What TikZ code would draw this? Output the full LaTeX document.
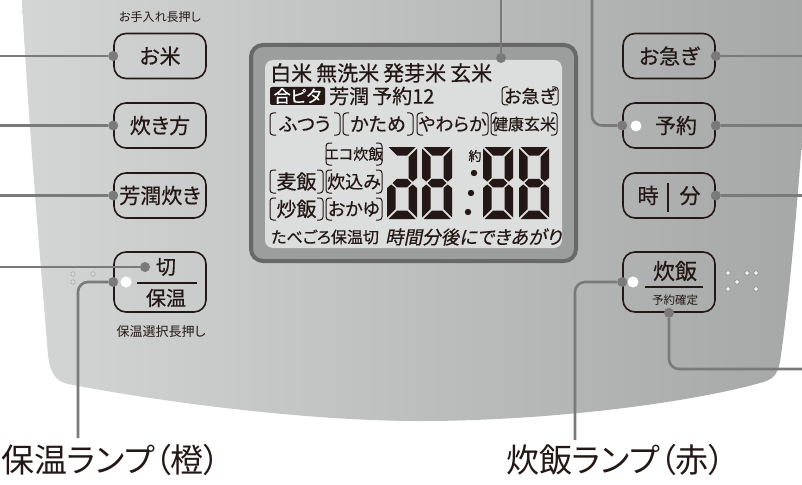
\documentclass[tikz,border=0pt]{standalone}
\usepackage{fontspec}
\newfontfamily\jp[RawFeature=+palt]{Noto Sans CJK JP}
\newfontfamily\jpb[RawFeature=+palt,FakeBold=0.5]{Noto Sans CJK JP}
\newfontfamily\jpit[RawFeature=+palt,FakeSlant=0.2,FakeBold=0.5]{Noto Sans CJK JP}
\usepackage{tikz}
\newcommand\jpsize[1]{\fontsize{#1}{#1}\selectfont}

\definecolor{ink}{HTML}{231815}
\definecolor{leadgray}{HTML}{7A7A7A}
\definecolor{panelL}{HTML}{D4D5D5}
\definecolor{panelR}{HTML}{A6A7A7}
\definecolor{bezel}{HTML}{9C9D9D}
\definecolor{bezelline}{HTML}{686868}
\definecolor{lcd}{HTML}{DCDDDD}

\tikzset{
  btn/.style={draw=ink, line width=1.6pt, rounded corners=12pt, minimum width=92pt,
    minimum height=45pt, inner sep=0pt, text=ink, font=\jpb\jpsize{21}},
  lead/.style={leadgray, line width=2.6pt, rounded corners=10pt},
  pin/.style={circle, fill=leadgray, inner sep=0pt, minimum size=10pt},
  lamp/.style={circle, fill=white, inner sep=0pt, minimum size=11pt},
  lcdtxt/.style={text=ink, inner sep=0pt},
  tagline/.style={draw=ink, line width=1pt, rounded corners=3pt},
  pore/.style={circle, draw=gray!90, fill=white!92!gray, line width=0.6pt, inner sep=0pt, minimum size=4.5pt},
  sega/.pic={\fill[ink] (1.5,-72) -- (28.5,-72) -- (20,-63.5) -- (10,-63.5) -- cycle;},
  segb/.pic={\fill[ink] (30,-70.5) -- (21.5,-62) -- (21.5,-41) -- (25.75,-37.5) -- (30,-41) -- cycle;},
  segc/.pic={\fill[ink] (30,-1.5) -- (21.5,-10) -- (21.5,-31) -- (25.75,-34.5) -- (30,-31) -- cycle;},
  segd/.pic={\fill[ink] (1.5,0) -- (28.5,0) -- (20,-8.5) -- (10,-8.5) -- cycle;},
  sege/.pic={\fill[ink] (0,-1.5) -- (8.5,-10) -- (8.5,-31) -- (4.25,-34.5) -- (0,-31) -- cycle;},
  segf/.pic={\fill[ink] (0,-70.5) -- (8.5,-62) -- (8.5,-41) -- (4.25,-37.5) -- (0,-41) -- cycle;},
  segg/.pic={\fill[ink] (5.5,-36) -- (10,-40.25) -- (20,-40.25) -- (24.5,-36) -- (20,-31.75) -- (10,-31.75) -- cycle;},
}

% bracketed LCD tag: name, x1, y1, x2, y2, size, text
\newcommand\lcdtag[7]{%
  \node[lcdtxt, font=\jpb\jpsize{#6}] (#1) at ({(#2+#4)/2},{(#3+#5)/2}) {#7};
  \draw[tagline] ({#2+6},#3) -- (#2,#3) -- (#2,#5) -- ({#2+6},#5);
  \draw[tagline] ({#4-6},#3) -- (#4,#3) -- (#4,#5) -- ({#4-6},#5);
}
% seven segment digit: left x, segments
\newcommand\lcddigit[2]{%
  \begin{scope}[shift={(#1,219)}, xslant=0.18]
    \foreach \s in {#2} {\pic {seg\s};}
  \end{scope}
}

\begin{document}
\begin{tikzpicture}[x=1pt, y=-1pt]
\useasboundingbox (0,0) rectangle (802,484);

% panel
\shade[left color=panelL, right color=panelR] (22,0) -- (802,0) -- (802,140)
  .. controls (793,260) and (786,320) .. (780,362) .. controls (777,376) and (772,380) .. (760,383)
  .. controls (680,405) and (540,421) .. (420,421) .. controls (300,421) and (150,400) .. (68,384)
  .. controls (55,381) and (50,372) .. (48,355) .. controls (42,280) and (28,120) .. (22,0) -- cycle;

% display
\draw[fill=bezel, draw=bezelline, line width=4pt, rounded corners=12pt] (251,45) rectangle (576,261);
\fill[lcd, rounded corners=8pt] (265,60) rectangle (562,248);

\node[lcdtxt, anchor=west, font=\jpb\jpsize{21}] (rice) at (270,73) {白米\hspace{4pt}無洗米\hspace{4pt}発芽米\hspace{4pt}玄米};
\node[fill=ink, rounded corners=2pt, minimum width=55pt, minimum height=18pt, inner sep=0pt,
  text=white, font=\jpb\jpsize{17}] (gopita) at (297.5,96) {合ピタ};
\node[lcdtxt, anchor=west, font=\jpb\jpsize{20}] (houjunlcd) at (329,96) {芳潤\hspace{3pt}予約12};
\lcdtag{isogilcd}{502}{87}{558}{105}{18}{お急ぎ}
\lcdtag{futsu}{270}{113}{340}{135}{19}{ふつう}
\lcdtag{katame}{343}{113}{413}{135}{19}{かため}
\lcdtag{yawaraka}{417}{113}{488}{135}{18}{やわらか}
\lcdtag{genmai}{491}{113}{557}{135}{16}{健康玄米}
\lcdtag{eco}{326}{143}{382}{165}{15}{エコ炊飯}
\lcdtag{mugi}{270}{170}{323}{193}{20}{麦飯}
\lcdtag{takikomi}{326}{170}{382}{193}{18}{炊込み}
\lcdtag{chahan}{270}{198}{323}{220}{20}{炒飯}
\lcdtag{okayu}{326}{198}{382}{220}{18}{おかゆ}
\node[lcdtxt, anchor=west, font=\jpb\jpsize{16}] (tabegoro) at (271,237) {たべごろ保温切};
\node[lcdtxt, anchor=west, font=\jpit\jpsize{18.5}] (dekiagari) at (385,237) {時間分後にできあがり};
\node[lcdtxt, font=\jpb\jpsize{13}] (yaku) at (475,156) {約};

\lcddigit{387}{a,b,g,e,c,d}
\lcddigit{422}{a,b,c,d,e,f,g}
\lcddigit{483}{a,b,c,d,e,f,g}
\lcddigit{519}{a,b,c,d,e,f,g}
\fill[ink] (474,173) circle (3.2pt) (471,193) circle (3.2pt) (468,212) circle (3.2pt);

% left buttons
\node[text=ink, font=\jp\jpsize{12}] (teire) at (160,17) {お手入れ長押し};
\node[btn] (kome) at (160,56) {お米};
\node[btn] (kikata) at (160,125.5) {炊き方};
\node[btn] (houjun) at (160,195.5) {芳潤炊き};
\node[btn, minimum height=60pt] (hoon) at (160,282) {};
\node[text=ink, font=\jpb\jpsize{20}] (kiri) at (166,267) {切};
\node[text=ink, font=\jpb\jpsize{20}] (hoontxt) at (166,298) {保温};
\draw[ink, line width=1.3pt] (137,283) -- (197,283);
\node[text=ink, font=\jp\jpsize{13}] (hoonsel) at (161,332) {保温選択長押し};
\node[pore, draw=gray!70, fill=gray!30] (pl1) at (73,274) {};
\node[pore, draw=gray!70, fill=gray!30] (pl2) at (93,274) {};
\node[pore, draw=gray!70, fill=gray!30] (pl3) at (73,282) {};

% right buttons
\node[btn] (isogi) at (669,56) {お急ぎ};
\node[btn] (yoyaku) at (669,125.5) {\hspace{14pt}予約};
\node[btn] (jifun) at (669,195.5) {時\hspace{21pt}分};
\draw[ink, line width=2.2pt] (668,183) -- (668,212);
\node[btn, minimum height=60pt] (suihan) at (669,282) {};
\node[text=ink, font=\jpb\jpsize{22}] (suihantxt) at (675,271) {炊飯};
\draw[ink, line width=1.3pt] (645,287) -- (703,287);
\node[text=ink, font=\jp\jpsize{11.5}] (kakutei) at (675,300) {予約確定};
\foreach \px/\py [count=\i] in {728/273, 747/273, 756/273, 737/282, 728/289, 756/289}
  \node[pore] (pr\i) at (\px,\py) {};

% lamps and pins
\node[lamp] (hoonlamp) at (126,282) {};
\node[lamp] (yoyakulamp) at (636,126) {};
\node[lamp] (suihanlamp) at (633,282) {};
\node[pin] (komepin) at (kome.west) {};
\node[pin] (kikatapin) at (kikata.west) {};
\node[pin] (houjunpin) at (houjun.west) {};
\node[pin] (kiripin) at (145,267) {};
\node[pin] (hoonpin) at (hoon.west) {};
\node[pin] (isogipin) at (isogi.east) {};
\node[pin] (yoyakupin) at (yoyaku.east) {};
\node[pin] (yoyakulpin) at (yoyaku.west) {};
\node[pin] (jifunpin) at (jifun.east) {};
\node[pin] (suihanpin) at (suihan.west) {};
\node[pin] (kakuteipin) at (suihan.south) {};
\node[pin] (lcdpin) at (501,58) {};

% labels
\node[text=ink, font=\jp\jpsize{33}, inner sep=0pt, anchor=west] (hoonlabel) at (1,460) {保温ランプ（橙）};
\node[text=ink, font=\jp\jpsize{33}, inner sep=0pt, anchor=west] (suihanlabel) at (506,460) {炊飯ランプ（赤）};

% free ends
\coordinate (komeend) at (0,56);
\coordinate (kikataend) at (0,125.5);
\coordinate (houjunend) at (0,195.5);
\coordinate (kiriend) at (0,267);
\coordinate (hoonend) at (78,438);
\coordinate (isogiend) at (802,56);
\coordinate (yoyakuend) at (802,125.5);
\coordinate (yoyakutop) at (592,0);
\coordinate (jifunend) at (802,195.5);
\coordinate (suihanend) at (575,440);
\coordinate (kakuteiend) at (802,369);
\coordinate (lcdtop) at (501,0);

% leads
\draw[lead] (komeend) -- (komepin);
\draw[lead] (kikataend) -- (kikatapin);
\draw[lead] (houjunend) -- (houjunpin);
\draw[lead] (kiriend) -- (kiripin);
\draw[lead] (hoonpin) -| (hoonend);
\draw[lead] (isogipin) -- (isogiend);
\draw[lead] (yoyakupin) -- (yoyakuend);
\draw[lead] (yoyakulpin) -| (yoyakutop);
\draw[lead] (jifunpin) -- (jifunend);
\draw[lead] (suihanpin) -| (suihanend);
\draw[lead] (kakuteipin) |- (kakuteiend);
\draw[lead] (lcdpin) -- (lcdtop);
\end{tikzpicture}
\end{document}
